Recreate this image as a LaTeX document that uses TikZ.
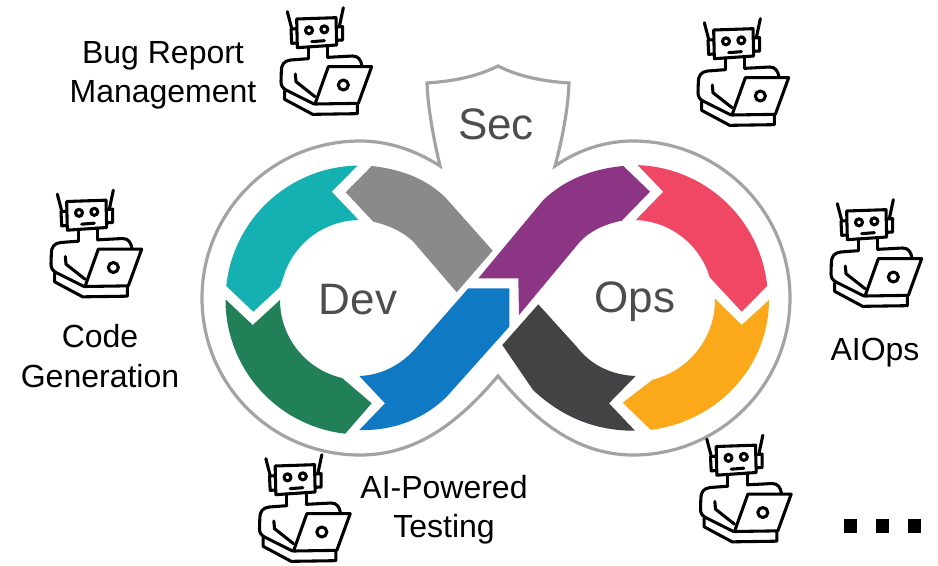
\documentclass[tikz,border=0pt]{standalone}
\usepackage{fontspec}
\setmainfont{Liberation Sans}
\definecolor{ctealx}{HTML}{15B0B2}
\definecolor{cgrayx}{HTML}{8A8A8A}
\definecolor{cgreenx}{HTML}{218058}
\definecolor{cbluex}{HTML}{0F7AC3}
\definecolor{cpurplex}{HTML}{8B3584}
\definecolor{credx}{HTML}{EF4764}
\definecolor{corangex}{HTML}{FBA81A}
\definecolor{cdarkx}{HTML}{434345}
\definecolor{clinex}{HTML}{A3A3A5}
\definecolor{ctextx}{HTML}{4D4D4F}
\tikzset{
  lab/.style={font=\fontsize{24}{29.5}\selectfont,align=center,text=black,inner sep=0pt},
  big/.style={font=\fontsize{33}{36}\selectfont,text=ctextx,inner sep=0pt},
  dotbox/.style={fill=black,minimum size=10pt,inner sep=0pt},
  arcl/.style={domain=#1,samples=30},
  robot/.pic={
    \begin{scope}[scale=1/3,line width=2.3pt,line join=round,line cap=round,draw=black]
      \draw (52,35) -- (65,85);
      \draw (220,23) -- (208,80);
      \draw (80,57) -- (198,53) -- (200,135) -- (82,143) -- cycle;
      \draw (80,86) -- (63,87) -- (65,130) -- (81,129);
      \draw (199,81) -- (218,80) -- (218,120) -- (200,121);
      \draw (117,91) circle (10.5);
      \draw (163,88) circle (10.5);
      \draw (125,125) -- (163,122);
      \draw (115,141) -- (115,176);
      \draw (173,136) -- (173,172);
      \draw (115,176) -- (62,180) .. controls (42,182) and (34,195) .. (34,212) -- (33,245) .. controls (33,258) and (38,264) .. (48,270) -- (132,312);
      \draw (173,172) -- (248,168) .. controls (265,168) and (273,180) .. (276,198);
      \draw (76,222) -- (78,245) -- (135,290);
      \draw (175,200) -- (305,200) -- (265,310) -- (135,312) -- cycle;
      \draw (220,255) circle (15);
      \draw (44,272) -- (44,298) -- (128,343) -- (262,341) -- (262,310);
    \end{scope}
  }
}
\begin{document}
\begin{tikzpicture}[x=0.75pt,y=-0.75pt]
\useasboundingbox (0,0) rectangle (938,565);
% outline
\draw[clinex,line width=2.4pt,line join=miter]
  (555,166) .. controls (562,140) and (568,110) .. (569,83)
  .. controls (540,81) and (518,76) .. (498,66)
  .. controls (478,76) and (456,81) .. (427,83)
  .. controls (428,110) and (434,140) .. (440,166)
  .. controls (415,150) and (388,141) .. (360,141)
  .. controls (272,141) and (202,212) .. (202,298)
  .. controls (202,385) and (272,455) .. (360,455)
  .. controls (420,455) and (462,418) .. (498,376)
  .. controls (533,418) and (575,455) .. (633,455)
  .. controls (720,455) and (790,385) .. (790,298)
  .. controls (790,212) and (720,141) .. (633,141)
  .. controls (605,141) and (578,150) .. (555,166) -- cycle;
% segments
\fill[ctealx] (253.3,311.7) -- plot[arcl=186:269] ({360+134.5*cos(\x)},{300+134.5*sin(\x)}) -- (331.7,191.7) -- plot[arcl=269:199] ({360+80*cos(\x)},{300+80*sin(\x)}) -- (280,287) -- cycle;
\fill[cgrayx] (371.7,166) .. controls (400,169) and (425,178) .. (445,197) -- (492.7,250.7) -- (456.7,292.3) -- (413.3,241.7) .. controls (402,231) and (388,225) .. (373.3,221.7) -- (345.7,192.3) -- cycle;
\fill[cgreenx] (252.7,325) -- plot[arcl=180:103] ({360+80*cos(\x)},{300+80*sin(\x)}) -- (371.7,403.3) -- plot[arcl=96.3:180.3] ({360+134.5*cos(\x)},{300+134.5*sin(\x)}) -- cycle;
\fill[cbluex] (359.3,430) .. controls (395,431) and (425,418) .. (446.7,396.7) -- (509.3,326.7) -- (509.3,288.3) -- (468.3,288.3) -- (420,343.3) .. controls (405,362) and (385,375) .. (359.3,376) -- (385,403.3) -- cycle;
\fill[cpurplex] (478.3,278.3) -- (518.3,278.3) -- (519,315) -- (580,241.7) .. controls (590,231) and (605,224) .. (621.7,220.7) -- (650,191.7) -- (623.3,166) .. controls (590,169) and (563,181) .. (543.3,200) -- cycle;
\fill[credx] (663.3,191.7) -- plot[arcl=272:343.5] ({633+80*cos(\x)},{300+80*sin(\x)}) -- (741.7,311.7) -- plot[arcl=354:272] ({633+135*cos(\x)},{300+135*sin(\x)}) -- cycle;
\fill[corangex] (741.7,325) -- (715,298.7) -- plot[arcl=-1:76] ({633+82*cos(\x)},{300+82*sin(\x)}) -- (622.7,402.7) -- plot[arcl=82.5:0] ({633+136*cos(\x)},{300+131*sin(\x)}) -- cycle;
\fill[cdarkx] (538.3,304.3) -- (576.7,346.7) .. controls (590,364) and (610,375) .. (635.7,376) -- (609,403.3) -- (635,430.7) .. controls (600,431) and (565,420) .. (533,390) -- (502.3,345) -- cycle;
% texts
\node[big] (dev) at (358,300) {Dev};
\node[big] (ops) at (635,302) {Ops};
\node[big] (sec) at (496,124) {Sec};
\node[lab] (bug) at (163,75) {Bug Report\\Management};
\node[lab] (code) at (100,356) {Code\\Generation};
\node[lab] (aiops) at (875,353) {AIOps};
\node[lab] (test) at (444,510) {AI-Powered\\Testing};
\node[dotbox] (d1) at (850.7,526) {};
\node[dotbox] (d2) at (882.7,526) {};
\node[dotbox] (d3) at (914.7,526) {};
% robots
\pic at (270,0) {robot};
\pic at (687,11) {robot};
\pic at (40,182.5) {robot};
\pic at (820,192) {robot};
\pic at (248.5,447) {robot};
\pic at (689.5,427.5) {robot};
\end{tikzpicture}
\end{document}
